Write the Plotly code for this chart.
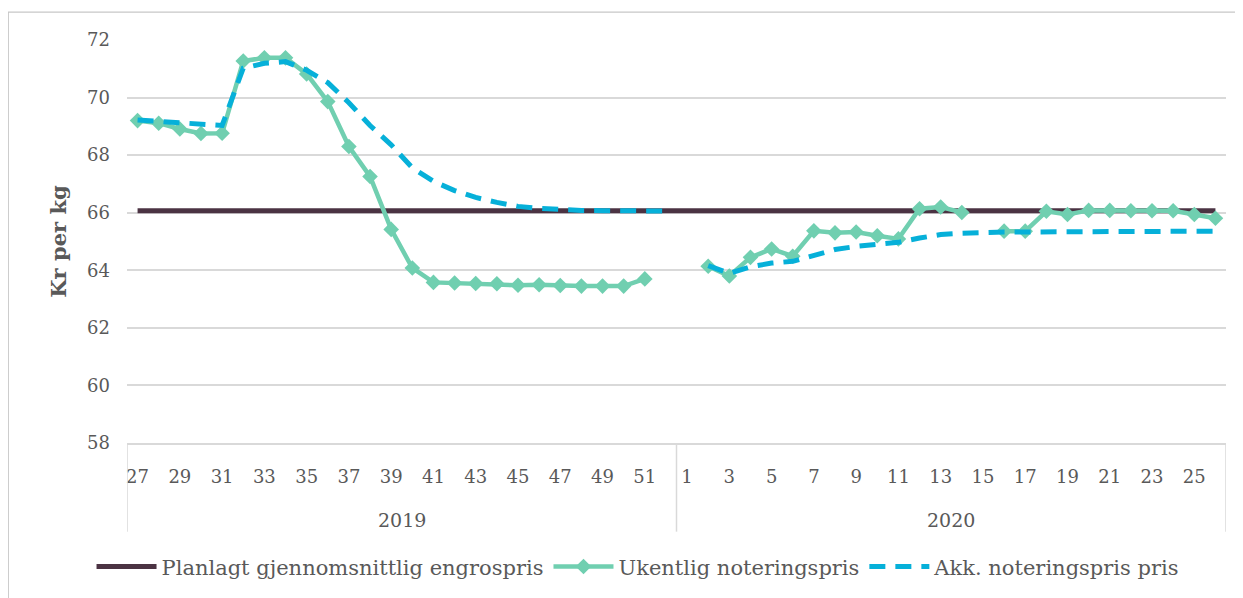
import plotly.graph_objects as go

# categories (week numbers)
weeks_2019 = [27, 28, 29, 30, 31, 32, 33, 34, 35, 36, 37, 38, 39,
              40, 41, 42, 43, 44, 45, 46, 47, 48, 49, 50, 51, 52]
weeks_2020 = [1, 2, 3, 4, 5, 6, 7, 8, 9, 10, 11, 12, 13,
              14, 15, 16, 17, 18, 19, 20, 21, 22, 23, 24, 25, 26]
years = ["2019", "2020"]

# series values (kr per kg)
planlagt = [66.07] * 52

ukentlig_2019 = [69.2, 69.11, 68.91, 68.75, 68.76, 71.27, 71.38, 71.38, 70.82, 69.86,
                 68.3, 67.26, 65.42, 64.08, 63.58, 63.56, 63.54, 63.53, 63.48, 63.5,
                 63.47, 63.45, 63.45, 63.45, 63.7, None]
ukentlig_2020 = [None, 64.14, 63.8, 64.45, 64.74, 64.49, 65.37, 65.3, 65.33, 65.2,
                 65.09, 66.14, 66.2, 66.01, None, 65.36, 65.36, 66.05, 65.94, 66.08,
                 66.08, 66.07, 66.07, 66.07, 65.94, 65.81]

akk_2019 = [69.22, 69.17, 69.11, 69.08, 69.03, 71.02, 71.19, 71.25, 70.95, 70.52,
            69.82, 69.03, 68.36, 67.56, 67.09, 66.77, 66.53, 66.36, 66.22, 66.15,
            66.1, 66.08, 66.07, 66.06, 66.06, 66.06]
akk_2020 = [None, 64.16, 63.89, 64.12, 64.25, 64.31, 64.51, 64.72, 64.83, 64.91,
            64.97, 65.12, 65.24, 65.29, 65.33, 65.33, 65.33, 65.33, 65.33, 65.33,
            65.33, 65.33, 65.34, 65.34, 65.35, 65.36]

GREY_TXT = "#595959"
GRID = "#d9d9d9"
FONT = "Georgia, 'DejaVu Serif', serif"

week_labels = weeks_2019 + weeks_2020
x_idx = list(range(len(week_labels)))
ukentlig = ukentlig_2019 + ukentlig_2020
akk = akk_2019 + akk_2020

fig = go.Figure()
fig.add_trace(go.Scatter(x=x_idx, y=planlagt, mode="lines",
                         name="Planlagt gjennomsnittlig engrospris",
                         line=dict(color="#4b3343", width=5)))
fig.add_trace(go.Scatter(x=x_idx, y=ukentlig, mode="lines+markers",
                         name="Ukentlig noteringspris",
                         line=dict(color="#70cfb0", width=4.5),
                         marker=dict(symbol="diamond", size=12, color="#70cfb0")))
fig.add_trace(go.Scatter(x=x_idx, y=akk, mode="lines",
                         name="Akk. noteringspris pris",
                         line=dict(color="#06b0d9", width=5, dash="16px,10px")))

# every other week shown as tick label
tick_vals = x_idx[::2]
tick_text = [str(w) for w in week_labels[::2]]

n = len(week_labels)
n19 = len(weeks_2019)

shapes = []
for xv in [-0.5, n19 - 0.5, n - 0.5]:
    shapes.append(dict(type="line", xref="x", yref="paper", x0=xv, x1=xv,
                       y0=0, y1=-0.22, line=dict(color=GRID, width=1.5)))
# outer chart border
shapes.append(dict(type="rect", xref="paper", yref="paper",
                   x0=-0.108, x1=1.03, y0=-0.5, y1=1.069,
                   line=dict(color="#c8c8c8", width=1.2), layer="below"))

annotations = [
    dict(text=years[0], x=(n19 - 1) / 2, y=-0.19, xref="x", yref="paper",
         showarrow=False, yanchor="middle", font=dict(size=19, color=GREY_TXT, family=FONT)),
    dict(text=years[1], x=n19 + (n - n19 - 1) / 2, y=-0.19, xref="x", yref="paper",
         showarrow=False, yanchor="middle", font=dict(size=19, color=GREY_TXT, family=FONT)),
]

# page body has an 8px margin, so the figure is drawn 8px in from the corner
fig.update_layout(
    width=1235, height=590,
    margin=dict(l=119, r=17, t=32, b=154),
    plot_bgcolor="white", paper_bgcolor="white",
    font=dict(family=FONT, color=GREY_TXT, size=18),
    showlegend=True,
    legend=dict(orientation="h", x=0.465, xanchor="center", y=-0.304, yanchor="middle",
                font=dict(size=21, color=GREY_TXT), itemwidth=60, tracegroupgap=0),
    shapes=shapes,
    annotations=annotations,
)
fig.update_xaxes(range=[-0.5, n - 0.5], tickvals=tick_vals, ticktext=tick_text,
                 showgrid=False, zeroline=False, showline=True, linecolor=GRID, linewidth=1.5,
                 ticks="", ticklabelstandoff=17, tickfont=dict(size=18, color=GREY_TXT))
fig.update_yaxes(range=[58, 72], dtick=2, showgrid=True, gridcolor=GRID, gridwidth=1.5,
                 zeroline=False, showline=False, ticks="", ticklabelstandoff=16,
                 tickfont=dict(size=18, color=GREY_TXT),
                 title=dict(text="<b>Kr per kg</b>", standoff=14,
                            font=dict(size=21, color=GREY_TXT)))

fig.write_html("out.html")
